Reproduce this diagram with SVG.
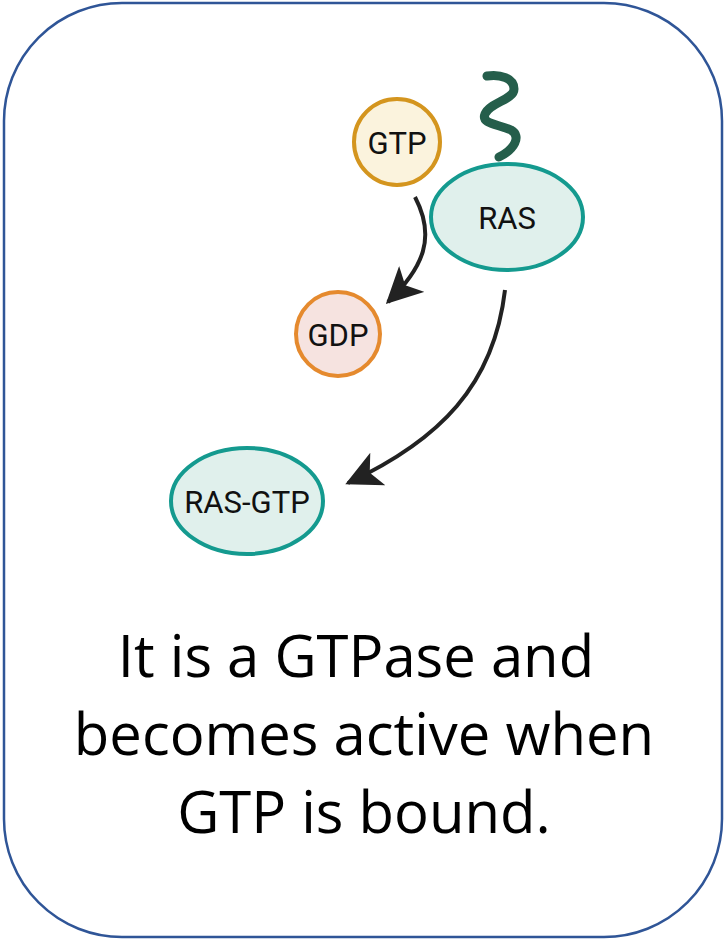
<svg xmlns="http://www.w3.org/2000/svg" width="726" height="940" viewBox="0 0 726 940">
  <style>
    .lbl { font-family: Roboto, "Liberation Sans", sans-serif; font-size: 31px; fill: #111; text-anchor: middle; dominant-baseline: central; }
    .caption { font-family: "Open Sans", "Noto Sans", sans-serif; font-size: 58px; fill: #000; text-anchor: middle; }
    .edge { fill: none; stroke: #222; stroke-width: 4; }
    .ras { fill: #E0F0EC; stroke: #149A8F; stroke-width: 4; }
  </style>
  <defs>
    <marker id="head" viewBox="0 0 12 12" refX="11" refY="6" markerWidth="36" markerHeight="36" markerUnits="userSpaceOnUse" orient="auto">
      <path d="M0,0 L12,6 L0,12 L3,6 Z" fill="#222"/>
    </marker>
  </defs>

  <!-- frame -->
  <rect x="4" y="3" width="718" height="934" rx="118" ry="118" fill="#fff" stroke="#2F5597" stroke-width="2.5"/>

  <!-- connectors -->
  <g id="connectors">
    <path class="edge" d="M415,197 C436,237 424,267 388,302" marker-end="url(#head)"/>
    <path class="edge" d="M505,290 C494,385 440,440 348,483" marker-end="url(#head)"/>
  </g>

  <g id="node-gtp">
    <circle cx="397" cy="142" r="43" fill="#FBF3DD" stroke="#D4951E" stroke-width="4"/>
    <text class="lbl" x="397" y="143">GTP</text>
  </g>

  <g id="node-ras">
    <path d="M487,76 C500,74 514,78 514,89 C514,100 490,102 485,114 C481,124 498,124 511,130 C522,136 514,150 499,157" fill="none" stroke="#255E4B" stroke-width="9" stroke-linecap="round"/>
    <ellipse class="ras" cx="507" cy="217" rx="76" ry="53"/>
    <text class="lbl" x="507" y="218">RAS</text>
  </g>

  <g id="node-gdp">
    <circle cx="338" cy="334" r="42" fill="#F6E3E0" stroke="#E58A2E" stroke-width="4"/>
    <text class="lbl" x="338" y="335">GDP</text>
  </g>

  <g id="node-rasgtp">
    <ellipse class="ras" cx="247" cy="501" rx="76" ry="53"/>
    <text class="lbl" x="247" y="502">RAS-GTP</text>
  </g>

  <g id="caption">
    <text class="caption" x="356" y="677">It is a GTPase and</text>
    <text class="caption" x="364" y="755">becomes active when</text>
    <text class="caption" x="364" y="833">GTP is bound.</text>
  </g>
</svg>
